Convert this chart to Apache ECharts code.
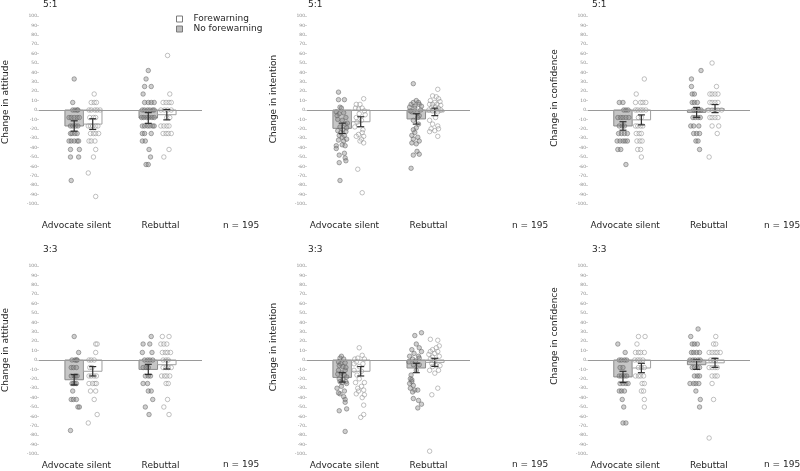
<!DOCTYPE html>
<html><head><meta charset="utf-8">
<script src="https://cdn.jsdelivr.net/npm/echarts@6/dist/echarts.min.js"></script>
<style>html,body{margin:0;padding:0;background:#fff}#c{width:800px;height:471px}</style>
</head><body><div id="c"></div>
<script>
// ---------------- data ----------------
const categories = ['Advocate silent', 'Rebuttal'];
const groupNames = ['No forewarning', 'Forewarning'];
const panelTitles = ['5:1', '5:1', '5:1', '3:3', '3:3', '3:3'];
const yNames = ['Change in attitude', 'Change in intention', 'Change in confidence',
                'Change in attitude', 'Change in intention', 'Change in confidence'];
const nLabel = 'n = 195';
const yMin = -100, yMax = 100, yStep = 10;

// means / half-CI order: [Advocate NF, Advocate F, Rebuttal NF, Rebuttal F]
const att51Means = [-17, -15, -8.5, -5];
const att51Err = [5.5, 5.7, 5.7, 5.5];
const int51Means = [-19.5, -12.5, -9.5, -2];
const int51Err = [5.5, 5.3, 5.5, 4];
const conf51Means = [-17, -10.5, -2.5, 1.5];
const conf51Err = [4.5, 5.3, 5.3, 4.3];
const att33Means = [-21, -12, -10, -5];
const att33Err = [5.5, 5, 5.4, 4.6];
const int33Means = [-18.5, -12, -8.5, -2.5];
const int33Err = [5, 5, 5, 4.3];
const conf33Means = [-18, -8.5, -5, -3];
const conf33Err = [6, 5, 5, 4.8];

// individual responses: [jitter (category units), value]
const att51AdvNF = [[0,33],[-0.02,8],[-0.02,0],[0.01,0],[0.04,0],[0.05,0],[-0.07,-8],[-0.04,-8],[0,-8],[0.04,-8],[0.07,-8],[-0.05,-17],[-0.02,-17],[0.02,-17],[0.05,-17],[-0.05,-25],[-0.03,-25],[0.01,-25],[0.04,-25],[-0.07,-33],[-0.04,-33],[0,-33],[0.04,-33],[0.06,-33],[-0.05,-42],[0.07,-42],[-0.05,-50],[0.06,-50],[-0.04,-75]];
const att51AdvF = [[0.02,17],[-0.02,8],[0.02,8],[0.05,8],[-0.05,0],[-0.02,0],[0.03,0],[0.06,0],[0.1,0],[-0.04,-8],[0.01,-8],[0.04,-8],[-0.06,-17],[-0.03,-17],[0,-17],[0.04,-17],[0.07,-17],[-0.03,-25],[0.01,-25],[0.04,-25],[0.08,-25],[-0.05,-33],[-0.02,-33],[0.03,-33],[0.04,-42],[0.01,-50],[-0.06,-67],[0.04,-92]];
const att51RebNF = [[0,42],[-0.03,33],[-0.05,25],[0.04,25],[-0.07,17],[-0.05,8],[0,8],[0.04,8],[0.08,8],[-0.08,0],[-0.05,0],[-0.01,0],[0.02,0],[0.06,0],[0.08,0],[-0.09,-8],[-0.06,-8],[-0.02,-8],[0.01,-8],[0.05,-8],[0.08,-8],[-0.08,-17],[-0.05,-17],[-0.01,-17],[0.02,-17],[0.06,-17],[0.08,-17],[-0.08,-25],[-0.05,-25],[0.04,-25],[-0.08,-33],[-0.04,-33],[0.01,-42],[0.03,-50],[-0.03,-58],[0,-58]];
const att51RebF = [[0.01,58],[0.04,17],[-0.05,8],[-0.01,8],[0.03,8],[0.06,8],[-0.08,0],[-0.03,0],[0.01,0],[0.06,0],[0,-8],[0.04,-8],[-0.08,-17],[-0.04,-17],[0,-17],[0.03,-17],[-0.05,-25],[-0.01,-25],[0.02,-25],[0.06,-25],[0.03,-42],[-0.04,-50]];

const int51AdvNF = [[-0.05,19],[-0.05,11],[0.03,11],[-0.03,3],[-0.01,2],[-0.08,-2],[-0.04,-4],[0.02,-3],[0.05,-8],[-0.06,-10],[0,-11],[0.04,-15],[-0.03,-18],[0.01,-21],[0.05,-23],[-0.04,-27],[0,-29],[0.03,-27],[0.06,-31],[-0.08,-38],[-0.08,-41],[0,-37],[0.04,-38],[0.03,-46],[-0.04,-48],[0.04,-51],[0.05,-54],[-0.04,-56],[-0.03,-75],[-0.07,-6],[0.07,-14],[-0.02,-24],[0.06,-19],[-0.06,-22],[0.02,-33],[-0.05,-32]];
const int51AdvF = [[0.04,12],[-0.06,6],[-0.01,6],[-0.07,2],[-0.03,1],[0.02,2],[0.05,-1],[-0.06,-8],[0.01,-11],[-0.03,-16],[-0.08,-18],[0.03,-21],[-0.03,-26],[-0.06,-28],[0.04,-28],[0.01,-31],[0.04,-35],[-0.01,-33],[-0.04,-63],[0.02,-88],[0.06,-5],[-0.05,-13],[0.02,-24],[-0.02,-4]];
const int51RebNF = [[-0.04,28],[-0.07,6],[-0.04,8],[0,10],[0.03,8],[0.04,6],[-0.09,3],[-0.02,4],[0.07,4],[-0.06,-2],[0.01,-3],[0.04,-6],[-0.04,-11],[0.03,-15],[0,-19],[-0.04,-21],[-0.02,-24],[-0.06,-27],[0.02,-29],[-0.04,-31],[-0.06,-35],[0.04,-33],[0,-36],[0.01,-44],[0.04,-47],[-0.04,-48],[-0.07,-62],[0.06,0],[-0.08,-1],[0.02,-8],[-0.02,2]];
const int51RebF = [[0.04,22],[-0.03,15],[0.02,14],[0.05,12],[-0.06,10],[0,8],[0.07,9],[-0.07,6],[-0.03,6],[0.03,6],[0.08,5],[-0.04,3],[0.01,3],[0.05,2],[-0.08,0],[-0.03,-1],[0.04,-2],[0.08,0],[0.01,-8],[-0.07,-11],[-0.03,-15],[0.04,-17],[-0.05,-20],[0,-22],[-0.07,-23],[0.05,-20],[0.04,-28]];

const conf51AdvNF = [[-0.05,8],[0,8],[0.01,0],[0.04,0],[0.07,0],[-0.07,-8],[-0.03,-8],[0,-8],[0.04,-8],[0.08,-8],[-0.05,-17],[-0.01,-17],[0.02,-17],[-0.06,-25],[-0.02,-25],[0.02,-25],[0.06,-25],[-0.08,-33],[-0.04,-33],[0,-33],[0.03,-33],[0.06,-33],[-0.07,-42],[-0.03,-42],[0.04,-58]];
const conf51AdvF = [[0.04,33],[-0.07,17],[-0.08,8],[-0.01,8],[0.02,8],[0.06,8],[-0.08,0],[-0.05,0],[-0.01,0],[0.02,0],[0.06,0],[-0.04,-8],[0,-8],[-0.08,-17],[-0.05,-17],[-0.01,-17],[0.02,-17],[-0.07,-25],[-0.03,-25],[0,-25],[-0.06,-33],[-0.02,-33],[0.01,-33],[-0.05,-42],[-0.01,-42],[0,-50]];
const conf51RebNF = [[0.06,42],[-0.07,33],[-0.07,25],[-0.06,17],[-0.03,17],[-0.06,8],[-0.03,8],[0.01,8],[-0.04,0],[-0.01,0],[0.03,0],[0.06,0],[-0.05,-8],[-0.02,-8],[0.02,-8],[0.05,-8],[-0.08,-17],[-0.04,-17],[0.03,-17],[-0.04,-25],[0,-25],[0.04,-25],[-0.01,-33],[0.02,-33],[0.04,-42]];
const conf51RebF = [[-0.04,50],[0.02,25],[-0.07,17],[-0.04,17],[0,17],[0.04,17],[-0.07,8],[-0.04,8],[0,8],[0.04,8],[-0.09,0],[-0.04,0],[0,0],[0.04,0],[0.09,0],[-0.07,-8],[-0.04,-8],[0,-8],[0.04,-8],[-0.04,-17],[0.05,-17],[0.03,-25],[-0.08,-50]];

const att33AdvNF = [[0,25],[0.06,8],[-0.03,0],[0.01,0],[0.03,0],[0.04,0],[-0.04,-8],[-0.01,-8],[0.03,-8],[-0.04,-17],[0,-17],[0.02,-17],[0.04,-17],[-0.03,-25],[-0.01,-25],[0.01,-25],[0.03,-25],[-0.02,-33],[-0.04,-42],[-0.01,-42],[0.03,-42],[0.05,-50],[0.07,-50],[-0.05,-75]];
const att33AdvF = [[0.04,17],[0.06,17],[0.04,8],[-0.05,0],[-0.02,0],[0.02,0],[-0.04,-8],[-0.01,-8],[-0.05,-17],[-0.02,-17],[0.02,-17],[0.05,-17],[-0.05,-25],[0,-25],[0.03,-25],[0.05,-25],[-0.03,-33],[0.04,-33],[0.02,-42],[0.06,-58],[-0.06,-67]];
const att33RebNF = [[0.04,25],[-0.07,17],[0.02,17],[-0.08,8],[0.05,8],[-0.05,0],[-0.01,0],[0.02,0],[0.06,0],[-0.07,-8],[-0.03,-8],[0,-8],[-0.04,-17],[0,-17],[0.03,-17],[-0.07,-25],[-0.01,-25],[0,-33],[0.04,-33],[0.06,-42],[-0.04,-50],[0.01,-58]];
const att33RebF = [[-0.06,25],[0.03,25],[-0.08,17],[-0.04,17],[0,17],[-0.06,8],[-0.02,8],[0.01,8],[0.05,8],[-0.05,0],[-0.01,0],[0.02,0],[-0.05,-8],[-0.01,-8],[0.02,-8],[0.06,-8],[-0.07,-17],[-0.03,-17],[0,-17],[0.04,-17],[-0.01,-25],[0.02,-25],[0.01,-42],[-0.04,-50],[0.03,-58]];

const int33AdvNF = [[-0.01,4],[-0.03,2],[0.02,1],[-0.05,-2],[-0.02,-4],[0.04,-3],[-0.04,-6],[0.01,-7],[0.04,-11],[-0.05,-11],[-0.01,-14],[0.03,-16],[-0.04,-20],[0.01,-21],[0.05,-23],[-0.03,-23],[0.06,-25],[-0.07,-30],[-0.01,-28],[0.03,-33],[-0.03,-36],[0.02,-39],[0.04,-42],[-0.05,-35],[0.06,-52],[-0.04,-54],[0.04,-45],[0.04,-76],[0.06,-18],[-0.06,-15],[0,-24],[0.05,-8]];
const int33AdvF = [[-0.02,13],[0.02,5],[-0.08,1],[-0.04,2],[0.05,1],[-0.06,-2],[0.03,-4],[-0.02,-7],[-0.09,-11],[0.01,-12],[-0.05,-16],[-0.02,-20],[-0.07,-24],[0.05,-24],[0.01,-28],[-0.03,-33],[0.04,-32],[-0.06,-36],[0.02,-40],[0.05,-37],[0.04,-48],[0,-61],[0.04,-58],[-0.04,-30],[-0.09,-4]];
const int33RebNF = [[-0.02,26],[0.07,29],[0,17],[-0.06,11],[0.04,13],[0.07,9],[-0.03,7],[-0.09,4],[0.03,4],[0.04,2],[-0.05,1],[-0.01,-1],[-0.1,-2],[-0.04,-5],[0.04,-5],[0,-11],[-0.07,-16],[-0.08,-20],[-0.06,-23],[-0.04,-27],[-0.08,-30],[-0.02,-32],[-0.05,-34],[0.02,-32],[-0.04,-41],[0.03,-43],[0.07,-47],[0.02,-51],[-0.06,-21],[-0.09,-25]];
const int33RebF = [[-0.06,22],[0.04,21],[0.06,15],[-0.03,11],[0.02,13],[-0.06,9],[0,7],[0.04,9],[-0.08,6],[-0.03,3],[0.06,4],[-0.06,1],[0,-1],[-0.04,-4],[0.02,-6],[0.07,-6],[-0.07,-11],[0,-14],[0.05,-11],[-0.03,-7],[0.04,-30],[-0.04,-37],[-0.07,-97]];

const conf33AdvNF = [[-0.07,17],[0.03,8],[-0.05,0],[-0.02,0],[0.02,0],[0.05,0],[-0.04,-8],[0,-8],[-0.05,-17],[-0.02,-17],[0.02,-17],[0.05,-17],[-0.04,-25],[0,-25],[0.04,-25],[0.07,-25],[-0.05,-33],[-0.02,-33],[0.02,-33],[-0.01,-42],[0.01,-50],[0,-67],[0.04,-67]];
const conf33AdvF = [[-0.04,25],[0.05,25],[-0.06,17],[-0.08,8],[-0.04,8],[-0.01,8],[0.04,8],[-0.09,0],[-0.05,0],[-0.02,0],[0.02,0],[-0.04,-8],[0,-8],[0.04,-8],[-0.08,-17],[-0.04,-17],[-0.01,-17],[0.03,-17],[0.01,-25],[0.04,-25],[0,-33],[0.03,-33],[0.04,-42],[0.04,-50]];
const conf33RebNF = [[0.02,33],[-0.08,25],[-0.06,17],[-0.03,17],[0.01,17],[-0.07,8],[-0.04,8],[0,8],[0.04,8],[-0.09,0],[-0.05,0],[-0.02,0],[0.02,0],[0.05,0],[-0.06,-8],[-0.03,-8],[0.01,-8],[0.04,-8],[-0.03,-17],[0.01,-17],[0.04,-17],[-0.09,-25],[-0.04,-25],[-0.01,-25],[0.03,-25],[-0.01,-33],[0.05,-42],[0.04,-50]];
const conf33RebF = [[0.01,25],[-0.02,17],[0.01,17],[-0.08,8],[-0.04,8],[0,8],[0.03,8],[0.07,8],[-0.06,0],[-0.02,0],[0.01,0],[-0.08,-8],[-0.04,-8],[0,-8],[0.03,-8],[-0.04,-17],[0,-17],[0.03,-17],[-0.04,-25],[-0.02,-42],[-0.08,-83]];

// ---------------- assembly ----------------
const panelMeans = [att51Means, int51Means, conf51Means, att33Means, int33Means, conf33Means];
const panelErr = [att51Err, int51Err, conf51Err, att33Err, int33Err, conf33Err];
const panelPts = [
  [att51AdvNF, att51AdvF, att51RebNF, att51RebF],
  [int51AdvNF, int51AdvF, int51RebNF, int51RebF],
  [conf51AdvNF, conf51AdvF, conf51RebNF, conf51RebF],
  [att33AdvNF, att33AdvF, att33RebNF, att33RebF],
  [int33AdvNF, int33AdvF, int33RebNF, int33RebF],
  [conf33AdvNF, conf33AdvF, conf33RebNF, conf33RebF]
];

// layout (pixels)
const layout = [
  {left:39,  width:163, top:16,  lab:17, shift:8,  nx:223, ny:221, tx:43,  ty:0},
  {left:307, width:163, top:16,  lab:17, shift:11, nx:512, ny:221, tx:308, ty:0},
  {left:588, width:162, top:16,  lab:17, shift:12, nx:764, ny:221, tx:592, ty:0},
  {left:39,  width:163, top:266, lab:7,  shift:10, nx:223, ny:460, tx:43,  ty:245},
  {left:307, width:163, top:266, lab:7,  shift:13, nx:512, ny:460, tx:308, ty:245},
  {left:588, width:162, top:266, lab:7,  shift:24, nx:764, ny:460, tx:592, ty:245}
];
const GRID_H = 188;
const HALF = 0.125;   // half bar width, category units
const FONT = 'DejaVu Sans';
const TXT = '#262626';
const NF_FILL = '#c6c6c6', NF_STROKE = '#8a8a8a';
const F_FILL = '#ffffff', F_STROKE = '#a0a0a0';

const grids = [], xAxes = [], yAxes = [], series = [], titles = [], graphics = [];

function barRender(fill, stroke) {
  return function (params, api) {
    const x = api.value(0), v = api.value(1);
    const a = api.coord([x - HALF, 0]), b = api.coord([x + HALF, v]);
    return {type:'rect', shape:{x:a[0], y:Math.min(a[1], b[1]), width:b[0] - a[0], height:Math.abs(b[1] - a[1])},
            style:{fill:fill, stroke:stroke, lineWidth:1}};
  };
}
function errRender(params, api) {
  const x = api.value(0);
  const lo = api.coord([x, api.value(1)]), hi = api.coord([x, api.value(2)]);
  const w = 3.5, st = {stroke:'#2e2e2e', lineWidth:1.2};
  return {type:'group', children:[
    {type:'line', shape:{x1:lo[0], y1:lo[1], x2:hi[0], y2:hi[1]}, style:st},
    {type:'line', shape:{x1:lo[0]-w, y1:lo[1], x2:lo[0]+w, y2:lo[1]}, style:st},
    {type:'line', shape:{x1:hi[0]-w, y1:hi[1], x2:hi[0]+w, y2:hi[1]}, style:st}
  ]};
}

layout.forEach((L, i) => {
  grids.push({left:L.left, width:L.width, top:L.top, height:GRID_H});
  xAxes.push({
    type:'value', gridIndex:i, min:0.4, max:2.6,
    axisLine:{show:false}, axisTick:{show:false}, splitLine:{show:false},
    axisLabel:{
      customValues:[1, 2], margin:L.lab, color:TXT, fontFamily:FONT, fontSize:9,
      formatter: v => (Math.round(v) === 1 ? '{a|' + categories[0] + '}' : '{b|' + categories[1] + '}'),
      rich:{a:{fontFamily:FONT, fontSize:9, color:TXT, padding:[0,14,0,0]},
            b:{fontFamily:FONT, fontSize:9, color:TXT, padding:[0,0,0,6]}}
    }
  });
  yAxes.push({
    type:'value', gridIndex:i, min:yMin, max:yMax, interval:yStep,
    axisLine:{show:false}, splitLine:{show:false},
    axisTick:{show:true, length:2, lineStyle:{color:'#bbbbbb', width:0.6}},
    axisLabel:{fontSize:4.5, color:'#8a8a8a', margin:2, fontFamily:FONT},
    name:yNames[i], nameLocation:'middle', nameRotate:90, nameGap:29,
    nameTextStyle:{fontFamily:FONT, fontSize:9, color:TXT, padding:[0,0,0,2*L.shift]}
  });
  titles.push({text:panelTitles[i], left:L.tx, top:L.ty, padding:0,
    textStyle:{fontFamily:FONT, fontSize:9, fontWeight:'normal', color:TXT}});
  graphics.push({type:'text', left:L.nx, top:L.ny,
    style:{text:nLabel, fontFamily:FONT, fontSize:9, fill:TXT}});

  const m = panelMeans[i], e = panelErr[i], P = panelPts[i];
  // bars
  series.push({type:'custom', name:groupNames[0], xAxisIndex:i, yAxisIndex:i, z:2,
    itemStyle:{color:NF_FILL, borderColor:NF_STROKE},
    encode:{x:0, y:1}, data:[[1 - HALF, m[0]], [2 - HALF, m[2]]], renderItem:barRender(NF_FILL, NF_STROKE)});
  series.push({type:'custom', name:groupNames[1], xAxisIndex:i, yAxisIndex:i, z:2,
    itemStyle:{color:F_FILL, borderColor:F_STROKE},
    encode:{x:0, y:1}, data:[[1 + HALF, m[1]], [2 + HALF, m[3]]], renderItem:barRender(F_FILL, F_STROKE),
    markLine:{silent:true, symbol:'none', label:{show:false}, animation:false,
      lineStyle:{color:'#9a9a9a', width:1, type:'solid'}, data:[{yAxis:0}]}});
  // points
  series.push({type:'scatter', name:groupNames[0], xAxisIndex:i, yAxisIndex:i, z:3,
    symbol:'circle', symbolSize:4.5,
    itemStyle:{color:'rgba(135,135,135,0.5)', borderColor:'rgba(95,95,95,0.8)', borderWidth:0.8},
    data:[...P[0].map(([j, v]) => [1 - HALF + j, v]), ...P[2].map(([j, v]) => [2 - HALF + j, v])]});
  series.push({type:'scatter', name:groupNames[1], xAxisIndex:i, yAxisIndex:i, z:3,
    symbol:'circle', symbolSize:4.5,
    itemStyle:{color:'rgba(255,255,255,0.2)', borderColor:'rgba(140,140,140,0.85)', borderWidth:0.8},
    data:[...P[1].map(([j, v]) => [1 + HALF + j, v]), ...P[3].map(([j, v]) => [2 + HALF + j, v])]});
  // error bars
  series.push({type:'custom', name:'CI', xAxisIndex:i, yAxisIndex:i, z:4,
    encode:{x:0, y:[1, 2]},
    data:[[1 - HALF, m[0] - e[0], m[0] + e[0]], [1 + HALF, m[1] - e[1], m[1] + e[1]],
          [2 - HALF, m[2] - e[2], m[2] + e[2]], [2 + HALF, m[3] - e[3], m[3] + e[3]]],
    renderItem:errRender});
});

const chart = echarts.init(document.getElementById('c'), null, {renderer:'canvas'});
chart.setOption({
  animation:false,
  backgroundColor:'#ffffff',
  title:titles,
  legend:{
    orient:'vertical', left:171, top:9, itemWidth:6, itemHeight:6, itemGap:0,
    icon:'rect', selectedMode:false,
    textStyle:{fontFamily:FONT, fontSize:9, color:TXT, lineHeight:10, padding:[0,0,0,6]},
    data:[
      {name:groupNames[1], itemStyle:{color:F_FILL, borderColor:'#7a7a7a', borderWidth:1}},
      {name:groupNames[0], itemStyle:{color:'#bdbdbd', borderColor:'#7a7a7a', borderWidth:1}}
    ]
  },
  grid:grids, xAxis:xAxes, yAxis:yAxes, series:series, graphic:graphics
});
</script></body></html>
